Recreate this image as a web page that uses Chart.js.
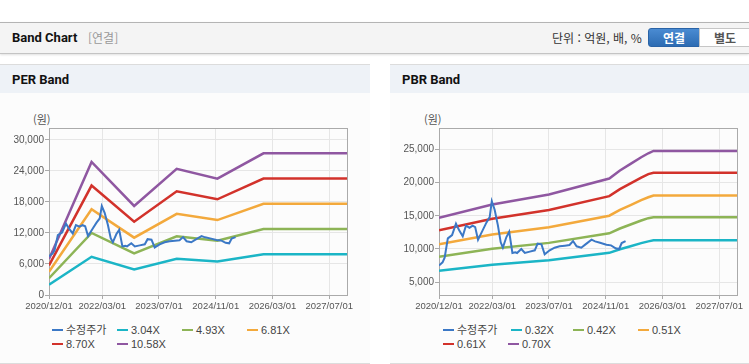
<!DOCTYPE html>
<html lang="ko">
<head>
<meta charset="utf-8">
<script src="https://cdn.jsdelivr.net/npm/chart.js@4/dist/chart.umd.min.js"></script>
<style>
  html, body { margin:0; padding:0; background:#fff; }
  body { width:749px; height:364px; position:relative; overflow:hidden;
         font-family:"Liberation Sans","Noto Sans CJK KR",sans-serif; }
  .hdr { position:absolute; left:0; top:22px; width:749px; height:30px; background:#f4f4f4;
         border-top:1px solid #b4b4b4; border-bottom:1px solid #c4c4c4; box-shadow:0 1px 2px rgba(0,0,0,0.12); }
  .hdr .t { position:absolute; left:12px; top:7px; font:bold 13px Roboto,"Noto Sans CJK KR",sans-serif; color:#111; }
  .hdr .s { position:absolute; left:88px; top:7px; font:12px "Noto Sans CJK KR",sans-serif; color:#999; line-height:16px; }
  .hdr .u { position:absolute; left:552px; top:7px; font:12px "Noto Sans CJK KR",sans-serif; color:#333; line-height:16px; }
  .btn { position:absolute; top:5px; height:19px; line-height:19px; text-align:center;
         font:bold 12px "Noto Sans CJK KR",sans-serif; box-sizing:border-box; }
  .b1 { left:648px; width:52px; background:linear-gradient(#4a8bd2,#2d6cb3); color:#fff; border:1px solid #2a63a6; border-radius:3px 0 0 3px; }
  .b2 { left:699px; width:52px; background:#fff; color:#555; border:1px solid #c6c6c6; }
  .panel { position:absolute; top:64px; height:298px; background:#fcfcfc;
           border-top:1px solid #dcdcdc; border-bottom:1px solid #dcdcdc; }
  .panel .ph { position:absolute; left:0; top:0; right:0; height:28px; background:#eef2f7; }
  .panel .ph span { position:absolute; left:12px; top:7px; font:bold 13px Roboto,sans-serif; color:#111; }
  .unit { position:absolute; top:111px; font:11px "Noto Sans CJK KR",sans-serif; color:#555; }
  canvas { position:absolute; top:93px; }
  .lg { position:absolute; font:11px "Liberation Sans","Noto Sans CJK KR",sans-serif; color:#444; white-space:nowrap; line-height:14px; }
  .lg i { display:inline-block; width:11px; height:2.5px; vertical-align:middle; margin-right:3px; position:relative; top:-1px; }
</style>
</head>
<body>
<div class="hdr">
  <span class="t">Band Chart</span><span class="s">[연결]</span>
  <span class="u">단위 : 억원, 배, %</span>
  <div class="btn b1">연결</div><div class="btn b2">별도</div>
</div>
<div class="panel" style="left:0;width:370px;"><div class="ph"><span>PER Band</span></div></div>
<div class="panel" style="left:390px;width:359px;"><div class="ph"><span>PBR Band</span></div></div>
<div class="unit" style="left:33px;">(원)</div>
<div class="unit" style="left:424px;">(원)</div>
<canvas id="per" width="370" height="224" style="left:0;"></canvas>
<canvas id="pbr" width="359" height="224" style="left:390px;"></canvas>
<div id="lgPer"></div>
<div id="lgPbr"></div>
<script>
// ---------- data ----------
const xTickLabels = ['2020/12/01','2022/03/01','2023/07/01','2024/11/01','2026/03/01','2027/07/01'];
const xRange = ['2020/12/01','2027/12/01'];

const priceLabel = '수정주가';
const priceDates = ['2020/12/01','2021/01/01','2021/01/19','2021/02/16','2021/03/22','2021/04/25','2021/05/22','2021/06/22','2021/07/19','2021/08/19','2021/09/16','2021/10/07','2021/11/01','2021/12/10','2022/01/13','2022/02/10','2022/02/28','2022/03/22','2022/04/19','2022/05/13','2022/06/01','2022/07/01','2022/07/25','2022/08/22','2022/09/16','2022/10/01','2022/11/07','2022/12/07','2023/01/19','2023/03/01','2023/03/25','2023/04/28','2023/05/25','2023/07/07','2023/08/19','2023/10/01','2023/11/16','2023/12/25','2024/01/25','2024/02/25','2024/04/04','2024/05/10','2024/07/01','2024/08/01','2024/09/13','2024/11/07','2024/12/16','2025/01/25','2025/02/25','2025/03/16','2025/04/19'];
const priceValues = [7500,8000,8700,11600,12100,13800,12800,11900,13500,13200,13500,13300,11400,12800,14000,14800,17200,15900,13600,11000,10200,11800,12600,9400,9500,9400,10000,9400,9600,9800,10800,10700,9200,9800,10200,10400,10500,10600,11200,10400,10200,10700,11400,11150,10950,10650,10550,10100,10000,10900,11200];

// PER band
const perLabels = ['3.04X','4.93X','6.81X','8.70X','10.58X'];
const perDates = ['2020/12/01','2021/12/01','2022/12/01','2023/12/01','2024/11/15','2025/12/15','2027/12/01'];
const per304  = [2000, 7400, 4950, 7010, 6470, 7870, 7870];
const per493  = [3240, 12000, 8030, 11360, 10490, 12770, 12770];
const per681  = [4480, 16570, 11090, 15700, 14490, 17640, 17640];
const per870  = [5720, 21170, 14160, 20050, 18510, 22530, 22530];
const per1058 = [6960, 25740, 17220, 24390, 22510, 27400, 27400];
const perYTicks = [0, 6000, 12000, 18000, 24000, 30000];

// PBR band
const pbrLabels = ['0.32X','0.42X','0.51X','0.61X','0.70X'];
const pbrDates = ['2020/12/01','2022/03/01','2023/07/01','2024/12/01','2025/03/01','2025/06/01','2025/09/01','2025/11/01','2025/12/15','2027/12/01'];
const pbr032 = [6720, 7630, 8320, 9420, 9970, 10420, 10880, 11150, 11300, 11300];
const pbr042 = [8820, 10020, 10920, 12360, 13080, 13680, 14280, 14640, 14780, 14780];
const pbr051 = [10710, 12170, 13260, 15010, 15880, 16610, 17340, 17780, 18050, 18050];
const pbr061 = [12810, 14550, 15860, 17950, 19000, 19870, 20740, 21260, 21450, 21450];
const pbr070 = [14700, 16700, 18200, 20600, 21800, 22800, 23800, 24400, 24750, 24750];
const pbrYTicks = [5000, 10000, 15000, 20000, 25000];

// ---------- styling ----------
const colors = ['#3b78c6','#1bb5c6','#8db456','#f3a93c','#d2322b','#8f57a1'];
function toMonth(d){ const [y,m,dd] = d.split('/').map(Number); return (y-2020)*12 + (m-12) + (dd-1)/30.5; }
function pts(dates, vals){ return dates.map((d,i)=>({x:toMonth(d), y:vals[i]})); }

const frame = {
  id:'frame',
  beforeDatasetsDraw(c){
    const a = c.chartArea, ctx = c.ctx;
    ctx.save(); ctx.strokeStyle = '#aaaaaa'; ctx.lineWidth = 1;
    ctx.strokeRect(Math.round(a.left)+0.5, Math.round(a.top)+0.5, Math.round(a.right-a.left), Math.round(a.bottom-a.top));
    ctx.restore();
  }
};

function makeChart(id, bandDates, bands, labels, yTicks, yMin, yMax, padRight){
  const datasets = [{label:priceLabel, data:pts(priceDates, priceValues), borderColor:colors[0], borderWidth:2}];
  bands.forEach((b,i)=>datasets.push({label:labels[i], data:pts(bandDates,b), borderColor:colors[i+1], borderWidth:2.5}));
  datasets.forEach(d=>{ d.pointRadius=0; d.tension=0; d.fill=false; });
  return new Chart(document.getElementById(id), {
    type:'line',
    data:{datasets},
    options:{
      responsive:false, animation:false, devicePixelRatio:1,
      layout:{padding:{left:0, top:35, right:padRight, bottom:0}},
      plugins:{legend:{display:false}, tooltip:{enabled:false}},
      scales:{
        x:{type:'linear', min:toMonth(xRange[0]), max:toMonth(xRange[1]),
           afterBuildTicks:s=>{ s.ticks = xTickLabels.map(l=>({value:toMonth(l)})); },
           afterFit:s=>{ s.height = 22; },
           border:{display:false},
           grid:{color:'#e6e6e6', tickColor:'#aaaaaa', tickLength:4},
           ticks:{autoSkip:false, maxRotation:0, padding:2, color:'#555', font:{family:'Liberation Sans', size:9.5},
                  callback:(v,i)=>xTickLabels[i]}},
        y:{min:yMin, max:yMax,
           afterBuildTicks:s=>{ s.ticks = yTicks.map(v=>({value:v})); },
           afterFit:s=>{ s.width = 49; },
           border:{display:false},
           grid:{color:'#e6e6e6', tickColor:'#aaaaaa', tickLength:4},
           ticks:{padding:1, color:'#555', font:{family:'Liberation Sans', size:10},
                  callback:v=>Number(v).toLocaleString('en-US')}}
      }
    },
    plugins:[frame]
  });
}

makeChart('per', perDates, [per304,per493,per681,per870,per1058], perLabels, perYTicks, 0, 32300, 23);
makeChart('pbr', pbrDates, [pbr032,pbr042,pbr051,pbr061,pbr070], pbrLabels, pbrYTicks, 3080, 28200, 12);

function legend(elId, labels, lefts, tops){
  const el = document.getElementById(elId);
  const all = [priceLabel].concat(labels);
  all.forEach((t,i)=>{
    const d = document.createElement('div');
    d.className = 'lg';
    d.style.left = lefts[i] + 'px';
    d.style.top = tops[i] + 'px';
    d.innerHTML = '<i style="background:'+colors[i]+'"></i>' + t;
    el.appendChild(d);
  });
}
legend('lgPer', perLabels, [52,117,182,247,52,117], [323,323,323,323,337,337]);
legend('lgPbr', pbrLabels, [443,511,573,638,443,508], [323,323,323,323,337,337]);
</script>
</body>
</html>
